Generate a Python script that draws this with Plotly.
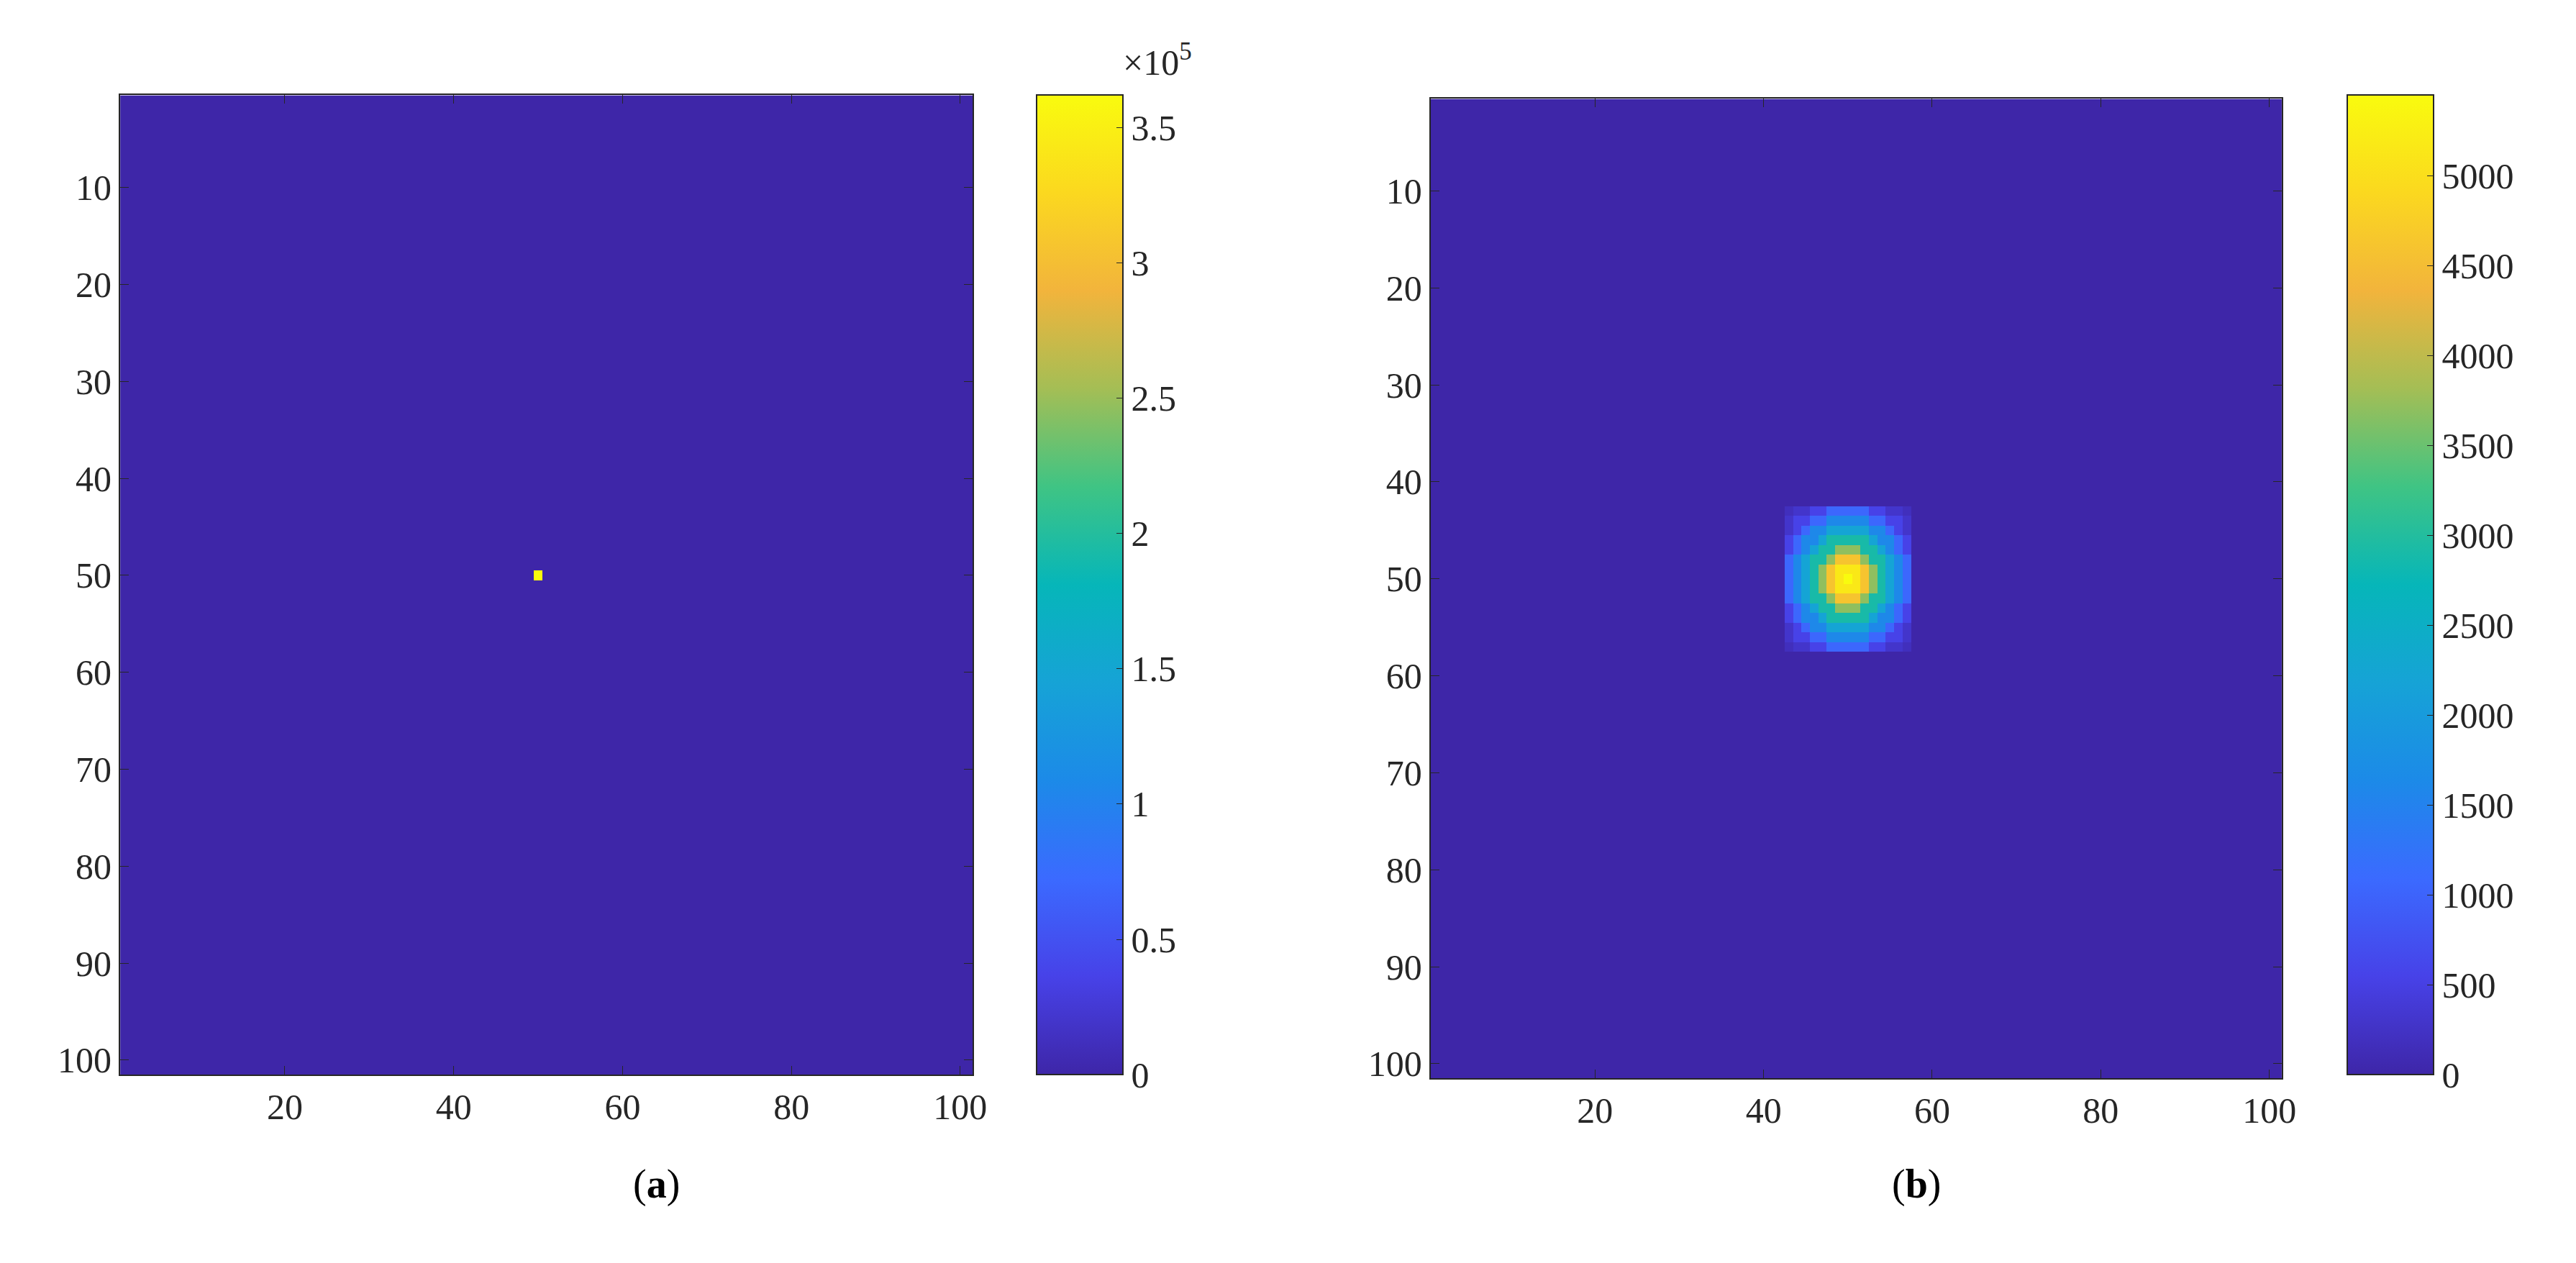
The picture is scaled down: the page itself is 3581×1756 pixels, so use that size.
import numpy as np
import plotly.graph_objects as go

# grid indices 1..101
n = 101
xs = list(range(1, n + 1))
ys = list(range(1, n + 1))

# (a) single source point
spike_pos = (50, 50)
spike_val = 3.62e5

blob_profile = [5450, 5150, 4600, 3700, 2900, 2200, 1600, 1050, 550, 300, 180]
blob_half = 7  # blob is cut to a square window of +-7 cells

parula = [
    [0.0, "#3e26a8"], [0.1, "#4742e8"], [0.2, "#3b6aff"], [0.3, "#1c8ae8"],
    [0.4, "#16a3d6"], [0.5, "#06b6b9"], [0.6, "#3fc484"], [0.7, "#a4be55"],
    [0.8, "#f2b43c"], [0.9, "#fbd81f"], [1.0, "#f9fb0e"],
]

za = np.zeros((n, n))
za[spike_pos[1] - 1, spike_pos[0] - 1] = spike_val

zb = np.zeros((n, n))
cx, cy = 50, 50
for j in range(cy - blob_half, cy + blob_half + 1):
    for i in range(cx - blob_half, cx + blob_half + 1):
        r = int(round(np.hypot(i - cx, j - cy)))
        zb[j - 1, i - 1] = blob_profile[min(r, len(blob_profile) - 1)]

W, H = 3581, 1756
font = dict(family="Liberation Serif", size=50, color="#262626")

def cbar(x0, ticks, labels):
    return dict(x=x0 / W, xanchor="left", y=1 - 1493 / H, yanchor="bottom",
                len=(1493 - 125) / H, lenmode="fraction", thickness=120,
                thicknessmode="pixels", ticks="inside", ticklen=10,
                tickcolor="#262626", tickvals=ticks, ticktext=labels,
                outlinecolor="#262626", outlinewidth=2, tickfont=font, xpad=0, ypad=0)

fig = go.Figure()
fig.add_trace(go.Heatmap(x=xs, y=ys, z=za, colorscale=parula, zmin=0, zmax=spike_val,
                         xaxis="x", yaxis="y",
                         colorbar=cbar(1441, [0, 0.5e5, 1e5, 1.5e5, 2e5, 2.5e5, 3e5, 3.5e5],
                                       ["0", "0.5", "1", "1.5", "2", "2.5", "3", "3.5"])))
fig.add_trace(go.Heatmap(x=xs, y=ys, z=zb, colorscale=parula, zmin=0, zmax=5450,
                         xaxis="x2", yaxis="y2",
                         colorbar=cbar(3273, list(range(0, 5001, 500)),
                                       [str(v) for v in range(0, 5001, 500)])))

ax = dict(showline=True, mirror="ticks", linecolor="#262626", linewidth=2, ticks="inside",
          ticklen=12, tickcolor="#262626", tickfont=font, showgrid=False, zeroline=False)
fig.update_layout(
    width=W, height=H, paper_bgcolor="white", plot_bgcolor="white",
    margin=dict(l=0, r=0, t=0, b=0), showlegend=False,
    xaxis=dict(ax, domain=[160 / W, 1352 / W], range=[0.5, 101.5],
               tickvals=[20, 40, 60, 80, 100], anchor="y"),
    yaxis=dict(ax, domain=[1 - 1493 / H, 1 - 125 / H], range=[101.5, 0.5],
               tickvals=list(range(10, 101, 10)), anchor="x"),
    xaxis2=dict(ax, domain=[1992 / W, 3182 / W], range=[0.5, 101.5],
                tickvals=[20, 40, 60, 80, 100], anchor="y2"),
    yaxis2=dict(ax, domain=[1 - 1498 / H, 1 - 130 / H], range=[101.5, 0.5],
                tickvals=list(range(10, 101, 10)), anchor="x2"),
    annotations=[
        dict(text="×10<sup>5</sup>", x=1560 / W, y=1 - 110 / H, xref="paper", yref="paper",
             xanchor="left", yanchor="bottom", showarrow=False, font=font),
        dict(text="(<b>a</b>)", x=875 / W, y=1 - 1680 / H, xref="paper", yref="paper",
             showarrow=False, font=dict(font, size=56, color="black")),
        dict(text="(<b>b</b>)", x=2707 / W, y=1 - 1680 / H, xref="paper", yref="paper",
             showarrow=False, font=dict(font, size=56, color="black")),
    ],
)
fig.write_html("out.html")
